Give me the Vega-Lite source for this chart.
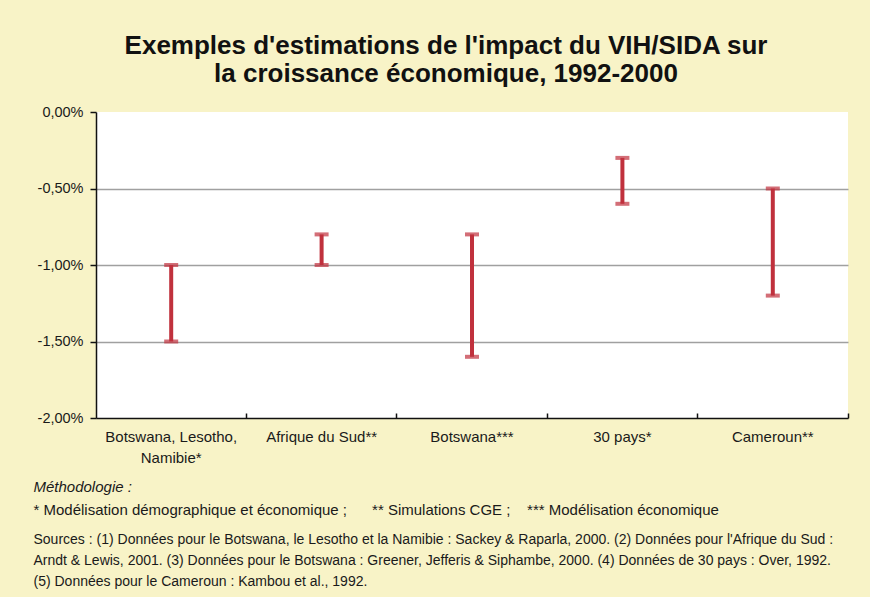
{
  "$schema": "https://vega.github.io/schema/vega-lite/v6.json",
  "width": 752,
  "height": 306,
  "autosize": {"type": "none"},
  "padding": {"left": 96, "top": 112, "right": 22, "bottom": 179},
  "background": "#F8F3C7",
  "config": {
    "view": {"fill": "white", "stroke": null},
    "font": "Liberation Sans"
  },
  "title": {
    "text": ["Exemples d'estimations de l'impact du VIH/SIDA sur", "la croissance économique, 1992-2000"],
    "fontSize": 26,
    "fontWeight": "bold",
    "color": "#111111",
    "lineHeight": 28,
    "anchor": "middle",
    "dx": -26,
    "offset": 17
  },
  "data": {
    "values": [
      {"cat": "Botswana, Lesotho, Namibie*", "lo": -1.5, "hi": -1.0},
      {"cat": "Afrique du Sud**", "lo": -1.0, "hi": -0.8},
      {"cat": "Botswana***", "lo": -1.6, "hi": -0.8},
      {"cat": "30 pays*", "lo": -0.6, "hi": -0.3},
      {"cat": "Cameroun**", "lo": -1.2, "hi": -0.5}
    ]
  },
  "layer": [
    {
      "mark": {"type": "rule", "color": "#C0313D", "strokeWidth": 4},
      "encoding": {
        "x": {
          "field": "cat", "type": "nominal", "sort": null,
          "scale": {"type": "band", "paddingInner": 0, "paddingOuter": 0},
          "axis": {
            "orient": "bottom",
            "labelExpr": "datum.label == 'Botswana, Lesotho, Namibie*' ? ['Botswana, Lesotho,', 'Namibie*'] : datum.label",
            "labelAngle": 0,
            "labelFontSize": 15,
            "labelColor": "#1a1a1a",
            "labelLineHeight": 21,
            "labelPadding": 11,
            "ticks": false,
            "domainColor": "#111111",
            "domainWidth": 1.5,
            "grid": false,
            "title": "Méthodologie :",
            "titleFontStyle": "italic",
            "titleFontWeight": "normal",
            "titleFontSize": 15,
            "titleColor": "#1a1a1a",
            "titleAlign": "left",
            "titleAnchor": "start",
            "titleBaseline": "alphabetic",
            "titleX": -63,
            "titleY": 73
          }
        },
        "y": {
          "field": "lo", "type": "quantitative",
          "scale": {"domain": [-2, 0], "nice": false, "zero": false},
          "axis": {
            "title": null,
            "values": [-2, -1.5, -1, -0.5, 0],
            "labelExpr": "(datum.value < 0 ? '-' : '') + replace(format(abs(datum.value), '.2f'), '.', ',') + '%'",
            "labelFontSize": 14.5,
            "labelColor": "#1a1a1a",
            "labelPadding": 7,
            "tickSize": 6,
            "tickColor": "#111111",
            "tickWidth": 1.5,
            "domainColor": "#111111",
            "domainWidth": 1.5,
            "grid": true,
            "gridColor": "#A0A0A0",
            "gridWidth": 1.3,
            "gridOpacity": {"condition": {"test": "datum.value == 0 || datum.value == -2", "value": 0}, "value": 1}
          }
        },
        "y2": {"field": "hi"}
      }
    },
    {
      "mark": {"type": "tick", "color": "#C0313D", "size": 14, "thickness": 4},
      "encoding": {
        "x": {
          "field": "cat", "type": "nominal", "sort": null,
          "scale": {"type": "band", "paddingInner": 0, "paddingOuter": 0},
          "axis": {
            "orient": "bottom",
            "bandPosition": 1,
            "labels": false,
            "domain": false,
            "grid": false,
            "ticks": true,
            "tickSize": -5,
            "tickColor": "#111111",
            "tickWidth": 1.5,
            "title": "* Modélisation démographique et économique ;\u00a0\u00a0\u00a0\u00a0\u00a0 ** Simulations CGE ;\u00a0\u00a0\u00a0 *** Modélisation économique",
            "titleFontWeight": "normal",
            "titleFontSize": 15,
            "titleColor": "#1a1a1a",
            "titleAlign": "left",
            "titleAnchor": "start",
            "titleBaseline": "alphabetic",
            "titleX": -63,
            "titleY": 96
          }
        },
        "y": {"field": "lo", "type": "quantitative", "title": null}
      }
    },
    {
      "mark": {"type": "tick", "color": "#C0313D", "size": 14, "thickness": 4},
      "encoding": {
        "x": {
          "field": "cat", "type": "nominal", "sort": null,
          "scale": {"type": "band", "paddingInner": 0, "paddingOuter": 0},
          "axis": {
            "orient": "bottom",
            "labels": false,
            "domain": false,
            "grid": false,
            "ticks": false,
            "title": [
              "Sources : (1) Données pour le Botswana, le Lesotho et la Namibie : Sackey & Raparla, 2000. (2) Données pour l'Afrique du Sud :",
              "Arndt & Lewis, 2001. (3) Données pour le Botswana : Greener, Jefferis & Siphambe, 2000. (4) Données de 30 pays : Over, 1992.",
              "(5) Données pour le Cameroun : Kambou et al., 1992."
            ],
            "titleFontWeight": "normal",
            "titleFontSize": 14,
            "titleColor": "#1a1a1a",
            "titleLineHeight": 21,
            "titleAlign": "left",
            "titleAnchor": "start",
            "titleBaseline": "alphabetic",
            "titleX": -63,
            "titleY": 125
          }
        },
        "y": {"field": "hi", "type": "quantitative", "title": null}
      }
    }
  ],
  "resolve": {"axis": {"x": "independent"}}
}
